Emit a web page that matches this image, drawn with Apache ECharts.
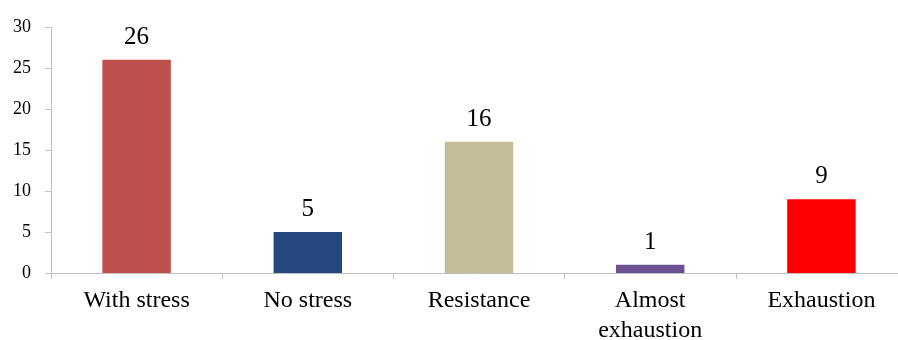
<!DOCTYPE html>
<html>
<head>
<meta charset="utf-8">
<script src="https://cdn.jsdelivr.net/npm/echarts@6/dist/echarts.min.js"></script>
<style>
html,body{margin:0;padding:0;background:#fff;}
#chart{width:898px;height:340px;}
</style>
</head>
<body>
<div id="chart"></div>
<script>
const categories = ['With stress', 'No stress', 'Resistance', 'Almost\nexhaustion', 'Exhaustion'];
const values = [26, 5, 16, 1, 9];
const barColors = ['#C0504D', '#24497F', '#C4BD97', '#6B5190', '#FF0000'];
const yTicks = [0, 5, 10, 15, 20, 25, 30];

const chart = echarts.init(document.getElementById('chart'), null, {renderer: 'canvas'});
const font = '"Liberation Serif", "Times New Roman", serif';
chart.setOption({
  animation: false,
  backgroundColor: '#ffffff',
  grid: {left: 51, right: -9, top: 27, bottom: 67, containLabel: false, outerBoundsMode: 'none'},
  xAxis: {
    type: 'category',
    data: categories,
    axisLine: {show: true, lineStyle: {color: '#c0c0c0', width: 1}},
    axisTick: {show: true, length: 6, lineStyle: {color: '#c0c0c0'}},
    axisLabel: {
      color: '#000', fontFamily: font, fontSize: 24, margin: 13, lineHeight: 30, interval: 0
    },
    splitLine: {show: false}
  },
  yAxis: {
    type: 'value',
    min: yTicks[0],
    max: yTicks[yTicks.length - 1],
    interval: 5,
    axisLine: {show: true, lineStyle: {color: '#c0c0c0', width: 1}},
    axisTick: {show: true, length: 6, lineStyle: {color: '#c0c0c0'}},
    axisLabel: {color: '#000', fontFamily: font, fontSize: 18, margin: 20},
    splitLine: {show: false}
  },
  series: [{
    type: 'bar',
    barWidth: '40%',
    data: values.map((v, i) => ({value: v, itemStyle: {color: barColors[i]}})),
    label: {
      show: true, position: 'top', distance: 10,
      color: '#000', fontFamily: font, fontSize: 25
    }
  }]
});
</script>
</body>
</html>
